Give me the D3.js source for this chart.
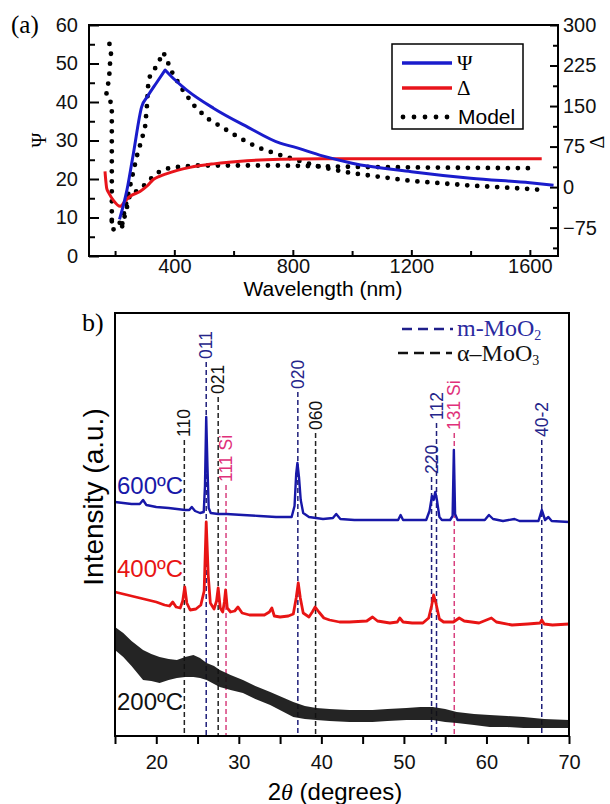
<!DOCTYPE html>
<html>
<head>
<meta charset="utf-8">
<script src="https://cdn.jsdelivr.net/npm/d3@7"></script>
<style>
  body { margin: 0; background: #fff; }
  svg { display: block; }
  text { font-family: "Liberation Sans", Arial, sans-serif; }
  .serif { font-family: "Liberation Serif", "Times New Roman", serif; }
</style>
</head>
<body>
<svg id="fig" width="610" height="804"></svg>
<script>
// ---------- panel (a): ellipsometry, [wavelength nm, value] ----------
const psiData = [[215, 9.5], [240, 17.1], [262, 26.7], [290, 38.8], [310, 41.5], [340, 45], [369, 48.3],
  [397, 46.1], [442, 43.1], [532, 38.4], [645, 33.6], [757, 29.3], [800, 28.4], [900, 26.0], [1000, 24.1],
  [1200, 21.9], [1400, 20.2], [1600, 19.0], [1680, 18.4]];
const deltaData = [[166, 29], [169, 10], [172, -3], [180, -12], [195, -25], [217, -35.6], [235, -25], [251, -17],
  [284, -8], [310, 3], [329, 14], [350, 20], [375, 25], [410, 31], [453, 36.5], [532, 43], [645, 48.8],
  [757, 51.5], [900, 52.5], [1200, 52.5], [1640, 52.5]];
const psiModel = [[189, 9.4], [200, 9.4], [212, 9.4], [222, 7.3], [230, 11], [240, 14.5], [251, 18.3], [262, 22],
  [273, 25.8], [287, 29.5], [301, 33.3], [307, 38.4], [313, 46.1], [329, 47.9], [349, 50.7], [363, 52.9],
  [377, 50.5], [391, 47.9], [425, 43.5], [465, 39.2], [510, 35.8], [566, 33.2], [622, 30.6], [681, 28.2],
  [746, 26.5], [830, 24.5], [900, 23], [1000, 21.5], [1200, 19.5], [1400, 18.3], [1600, 17.4], [1646, 17.1]];
const deltaModel = [[181, 265], [186.5, 250.7], [185.5, 241.5], [183, 229], [181, 210.8], [177, 192.3],
  [172, 177], [169.6, 167.6], [189, 155], [189, 40], [189, -78.6], [222.6, -75.5], [239.5, -38.6],
  [250.7, -12.3], [267.6, -9.2], [290, -1.3], [318, 14], [341, 26], [372, 34], [408, 37], [481, 40],
  [757, 40], [1000, 37.5], [1300, 36], [1608, 35]];
const waveMajor = [400, 800, 1200, 1600];
const waveMinor = [200, 600, 1000, 1400];
const psiTicks = [0, 10, 20, 30, 40, 50, 60];
const deltaTicks = [-75, 0, 75, 150, 225, 300];

// ---------- panel (b): XRD, [2theta, intensity a.u.] ----------
const xrd600 = [[15.0, 234], [16.0, 233], [17.0, 232], [18.0, 232], [18.4, 236], [18.8, 231], [20.0, 229],
  [21.5, 228], [22.5, 227], [23.5, 226], [24.0, 226], [24.3, 229], [24.7, 225], [25.3, 223], [25.75, 224],
  [25.9, 250], [26.05, 319], [26.2, 270], [26.35, 228], [26.6, 223], [27.5, 222], [28.5, 222], [30.5, 221],
  [32.5, 220], [34.5, 219], [36.4, 219], [36.75, 230], [36.95, 262], [37.1, 273], [37.3, 258], [37.5, 236],
  [37.8, 223], [38.5, 219], [40.2, 217], [41.4, 218], [41.8, 222], [42.3, 217], [44, 216], [46, 216],
  [48, 216], [49.3, 216], [49.6, 221], [49.9, 216], [51, 216], [52.7, 216], [53.1, 225], [53.4, 240],
  [53.6, 236], [53.8, 244], [54.0, 236], [54.3, 219], [54.6, 216], [55.6, 216], [55.9, 220], [56.05, 286],
  [56.2, 222], [56.5, 216], [58, 216], [59.8, 216], [60.3, 221], [60.8, 217], [62, 215], [63.4, 217],
  [64, 215], [66.3, 215], [66.7, 226], [67.1, 216], [67.5, 219], [67.9, 215], [70, 214]];
const xrd400 = [[15.0, 144], [16.0, 142], [17.0, 140], [18.0, 138], [19.0, 136], [20.0, 134], [21.0, 131],
  [21.6, 130], [22.0, 134], [22.4, 129], [22.9, 128], [23.2, 135], [23.45, 149], [23.7, 133], [24.1, 126],
  [24.8, 127], [25.4, 131], [25.8, 145], [26.05, 214], [26.3, 160], [26.55, 133], [27.0, 127], [27.3, 135],
  [27.5, 148], [27.75, 128], [28.05, 124], [28.25, 134], [28.4, 146], [28.6, 128], [29.0, 124], [29.5, 125],
  [29.9, 129], [30.4, 123], [31.3, 121], [32.2, 121], [33.1, 121], [33.7, 124], [34.0, 128], [34.3, 120],
  [35.0, 119], [36.0, 120], [36.6, 122], [36.95, 138], [37.2, 153], [37.45, 138], [37.8, 123], [38.5, 119],
  [38.9, 124], [39.25, 129], [39.7, 124], [40.3, 118], [41.0, 116], [42.2, 114], [43.4, 114], [45.5, 115],
  [46.2, 119], [46.8, 115], [48.3, 113], [49.2, 114], [49.5, 118], [49.9, 114], [51.0, 113], [52.3, 113],
  [53.0, 118], [53.35, 130], [53.6, 141], [53.9, 132], [54.3, 117], [54.8, 114], [56.0, 114], [56.7, 118],
  [57.3, 115], [59.1, 113], [60.6, 118], [61.2, 114], [63.1, 111], [65.0, 112], [66.5, 113], [66.7, 116],
  [67.0, 112], [68.0, 111], [70.0, 112]];
// 200C trace is a noisy band: [2theta, upper edge, lower edge]
const xrd200 = [[15.0, 109, 86], [16.0, 103, 79], [17.0, 95, 70], [18.4, 86, 56], [19.4, 82, 55], [20.4, 79, 53],
  [21.5, 77, 56], [22.5, 76, 58], [23.5, 79, 59], [24.5, 81, 59], [25.3, 78, 58], [26.1, 73, 56], [27.0, 70, 52],
  [27.7, 66, 49], [29.0, 61, 46], [30.5, 56, 43], [32.0, 50, 37], [33.8, 44, 31], [35.2, 39, 25], [36.6, 34, 19],
  [38.0, 30, 17], [39.4, 28, 16], [41.0, 27, 15], [43.4, 26, 14], [46.2, 26, 14], [48.0, 27, 15], [50.3, 28, 16],
  [52.0, 29, 16], [53.5, 29, 16], [55.0, 27, 14], [56.4, 24, 13], [58.5, 22, 11], [60.4, 21, 9], [62.5, 20, 9],
  [64.5, 19, 8], [67.0, 17, 8], [70.0, 16, 8]];
const refAngles = [23.4, 26.05, 27.5, 28.45, 37.15, 39.3, 53.35, 53.95, 56.1, 66.7];
const refLabels = ["110", "011", "021", "111 Si", "020", "060", "220", "112", "131 Si", "40-2"];
const refPhase = ["a", "m", "a", "si", "m", "a", "m", "m", "si", "m"];
const refTop = [296, 374, 339, 251, 344, 303, 259, 313, 303, 296];
const thetaTicks = [15, 20, 25, 30, 35, 40, 45, 50, 55, 60, 65, 70];

const svg = d3.select("#fig");
const sans = '"Liberation Sans", Arial, sans-serif';

function styleAxis(g, size) {
  g.select(".domain").remove();
  g.selectAll(".tick line").attr("stroke", "#000").attr("stroke-width", 2);
  g.attr("font-size", size).attr("font-family", sans);
  g.selectAll(".tick text").attr("fill", "#111");
}

// ================= panel (a) =================
const ax = d3.scaleLinear().domain([112, 1695]).range([89, 558]);
const ayPsi = d3.scaleLinear().domain([0, 60]).range([256, 25]);
const ayDel = d3.scaleLinear().domain([-127.5, 300]).range([256, 25]);
const pa = svg.append("g");

pa.append("g").attr("transform", "translate(0,256)")
  .call(d3.axisBottom(ax).tickValues(waveMajor).tickSize(-6).tickPadding(3).tickFormat(d3.format("d")))
  .call(g => styleAxis(g, 20));
pa.append("g").attr("transform", "translate(0,256)")
  .call(d3.axisBottom(ax).tickValues(waveMinor).tickSize(-5).tickFormat(""))
  .call(g => styleAxis(g, 20));
pa.append("g").attr("transform", "translate(89,0)")
  .call(d3.axisLeft(ayPsi).tickValues(psiTicks).tickSize(-10).tickPadding(11))
  .call(g => styleAxis(g, 20));
pa.append("g").attr("transform", "translate(89,0)")
  .call(d3.axisLeft(ayPsi).tickValues(psiTicks.slice(0, -1).map(d => d + 5)).tickSize(-6).tickFormat(""))
  .call(g => styleAxis(g, 20));
pa.append("g").attr("transform", "translate(558,0)")
  .call(d3.axisRight(ayDel).tickValues(deltaTicks).tickSize(-8).tickPadding(5))
  .call(g => styleAxis(g, 20));
pa.append("g").attr("transform", "translate(558,0)")
  .call(d3.axisRight(ayDel).tickValues(deltaTicks.map(d => d - 37.5)).tickSize(-5).tickFormat(""))
  .call(g => styleAxis(g, 20));

pa.append("rect").attr("x", 89).attr("y", 25).attr("width", 558 - 89).attr("height", 256 - 25)
  .attr("fill", "none").attr("stroke", "#000").attr("stroke-width", 2);

const dotStyle = p => p.attr("fill", "none").attr("stroke", "#000").attr("stroke-width", 4.8)
  .attr("stroke-linecap", "round").attr("stroke-dasharray", "0 10");

pa.append("path").datum(deltaModel)
  .attr("d", d3.line().x(d => ax(d[0])).y(d => ayDel(d[1])))
  .call(dotStyle);
pa.append("path").datum(psiModel)
  .attr("d", d3.line().x(d => ax(d[0])).y(d => ayPsi(d[1])))
  .call(dotStyle);
pa.append("path").datum(deltaData)
  .attr("d", d3.line().x(d => ax(d[0])).y(d => ayDel(d[1])).curve(d3.curveMonotoneX))
  .attr("fill", "none").attr("stroke", "#e8141b").attr("stroke-width", 3);
// rising and falling branches of psi drawn as one path, smooth on each side of the sharp peak
const psiPeak = psiData.findIndex(d => d[0] === 369);
const psiLine = d3.line().x(d => ax(d[0])).y(d => ayPsi(d[1])).curve(d3.curveMonotoneX);
pa.append("path")
  .attr("d", psiLine(psiData.slice(0, psiPeak + 1)) + psiLine(psiData.slice(psiPeak)).replace(/^M/, "L"))
  .attr("fill", "none").attr("stroke", "#1a1ccc").attr("stroke-width", 3).attr("stroke-linejoin", "round");

// legend (a)
const lega = pa.append("g");
lega.append("rect").attr("x", 392).attr("y", 44).attr("width", 131).attr("height", 85)
  .attr("fill", "#fff").attr("stroke", "#000").attr("stroke-width", 1.5);
lega.append("line").attr("x1", 402).attr("x2", 452).attr("y1", 63).attr("y2", 63)
  .attr("stroke", "#1a1ccc").attr("stroke-width", 3.5);
lega.append("line").attr("x1", 402).attr("x2", 452).attr("y1", 88).attr("y2", 88)
  .attr("stroke", "#e8141b").attr("stroke-width", 3.5);
lega.append("path").attr("d", "M403,117H448").call(dotStyle).attr("stroke-dasharray", "0 11");
lega.append("text").attr("class", "serif").attr("x", 457).attr("y", 70).attr("font-size", 21).text("Ψ");
lega.append("text").attr("class", "serif").attr("x", 457).attr("y", 95).attr("font-size", 21).text("Δ");
lega.append("text").attr("x", 458).attr("y", 124).attr("font-size", 21).text("Model");

pa.append("text").attr("class", "serif").attr("x", 11).attr("y", 33).attr("font-size", 25).text("(a)");
pa.append("text").attr("class", "serif").attr("transform", "translate(39,140) rotate(-90)")
  .attr("text-anchor", "middle").attr("dominant-baseline", "central").attr("font-size", 20).text("Ψ");
pa.append("text").attr("class", "serif").attr("transform", "translate(597,142) rotate(-90)")
  .attr("text-anchor", "middle").attr("dominant-baseline", "central").attr("font-size", 20).text("Δ");
pa.append("text").attr("x", 323).attr("y", 296).attr("text-anchor", "middle").attr("font-size", 21)
  .text("Wavelength (nm)");

// ================= panel (b) =================
const bx = d3.scaleLinear().domain([15, 70]).range([115, 569]);
const by = d3.scaleLinear().domain([0, 423]).range([736, 313]);
const pb = svg.append("g");
const phaseColor = { m: "#1f1f7a", a: "#222", si: "#d8407e" };
const labelColor = { m: "#25258a", a: "#111", si: "#e0307a" };

pb.append("g").attr("transform", "translate(0,736)")
  .call(d3.axisBottom(bx).tickValues(thetaTicks).tickSize(8).tickPadding(11)
    .tickFormat(d => d % 10 === 0 ? d : ""))
  .call(g => styleAxis(g, 20));

// reference dashed lines and peak labels
const refs = pb.append("g");
refAngles.forEach((a, i) => {
  refs.append("line").attr("x1", bx(a)).attr("x2", bx(a)).attr("y1", by(refTop[i])).attr("y2", 736)
    .attr("stroke", phaseColor[refPhase[i]]).attr("stroke-width", 1.5).attr("stroke-dasharray", "5,3");
  refs.append("text").attr("transform", `translate(${bx(a)},${by(refTop[i]) - 3}) rotate(-90)`)
    .attr("dominant-baseline", "central").attr("font-size", 17.5)
    .attr("fill", labelColor[refPhase[i]]).text(refLabels[i]);
});

pb.append("path").datum(xrd200)
  .attr("d", d3.area().x(d => bx(d[0])).y0(d => by(d[2])).y1(d => by(d[1])))
  .attr("fill", "#111").attr("fill-opacity", 0.92);
pb.append("path").datum(xrd400)
  .attr("d", d3.line().x(d => bx(d[0])).y(d => by(d[1])))
  .attr("fill", "none").attr("stroke", "#e81414").attr("stroke-width", 2.8).attr("stroke-linejoin", "round");
pb.append("path").datum(xrd600)
  .attr("d", d3.line().x(d => bx(d[0])).y(d => by(d[1])))
  .attr("fill", "none").attr("stroke", "#1818a8").attr("stroke-width", 2.4).attr("stroke-linejoin", "round");

pb.append("rect").attr("x", 115).attr("y", 313).attr("width", 569 - 115).attr("height", 736 - 313)
  .attr("fill", "none").attr("stroke", "#000").attr("stroke-width", 2);

// temperature labels
pb.append("text").attr("x", 117).attr("y", 494).attr("font-size", 24).attr("fill", "#1818a8").text("600ºC");
pb.append("text").attr("x", 117).attr("y", 577).attr("font-size", 24).attr("fill", "#e81414").text("400ºC");
pb.append("text").attr("x", 117).attr("y", 710).attr("font-size", 24).attr("fill", "#111").text("200ºC");

// legend (b)
const legb = pb.append("g");
legb.append("line").attr("x1", 402).attr("x2", 453).attr("y1", 329).attr("y2", 329)
  .attr("stroke", "#1f1f8a").attr("stroke-width", 2.5).attr("stroke-dasharray", "10,6");
legb.append("line").attr("x1", 398).attr("x2", 452).attr("y1", 353).attr("y2", 353)
  .attr("stroke", "#111").attr("stroke-width", 2.5).attr("stroke-dasharray", "10,6");
const t1 = legb.append("text").attr("class", "serif").attr("x", 457).attr("y", 336).attr("font-size", 24)
  .attr("fill", "#2a2aa0").text("m-MoO");
t1.append("tspan").attr("font-size", 14).attr("dy", 4).text("2");
const t2 = legb.append("text").attr("class", "serif").attr("x", 457).attr("y", 361).attr("font-size", 24)
  .attr("fill", "#111").text("α–MoO");
t2.append("tspan").attr("font-size", 14).attr("dy", 4).text("3");

pb.append("text").attr("class", "serif").attr("x", 82).attr("y", 331).attr("font-size", 26).text("b)");
pb.append("text").attr("transform", "translate(93,497) rotate(-90)").attr("text-anchor", "middle")
  .attr("dominant-baseline", "central").attr("font-size", 28).text("Intensity (a.u.)");
const xl = pb.append("text").attr("x", 335).attr("y", 800).attr("text-anchor", "middle").attr("font-size", 24);
xl.append("tspan").text("2");
xl.append("tspan").attr("class", "serif").attr("font-style", "italic").text("θ");
xl.append("tspan").text(" (degrees)");
</script>
</body>
</html>
